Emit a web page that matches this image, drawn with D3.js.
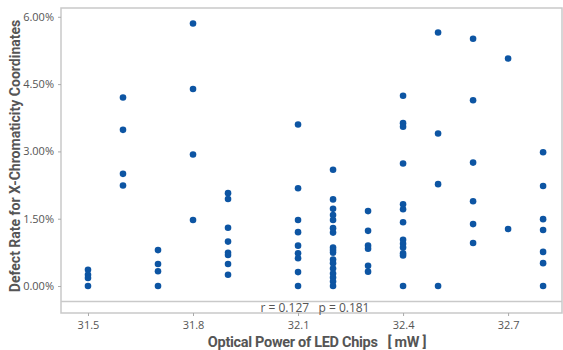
<!DOCTYPE html>
<html>
<head>
<meta charset="utf-8">
<script src="https://cdn.jsdelivr.net/npm/d3@7"></script>
<style>
  body { margin: 0; background: #fff; }
  svg text { font-family: "Open Sans", sans-serif; }
</style>
</head>
<body>
<div id="chart"></div>
<script>
let width = 563,
    height = 350;

// optical power groups (mW) and defect rates (%)
const power = [31.5, 31.6, 31.7, 31.8, 31.9, 32.1, 32.2, 32.3, 32.4, 32.5, 32.6, 32.7, 32.8];
const defects = [
  [0.36, 0.25, 0.18, 0.0],
  [4.20, 3.48, 2.50, 2.24],
  [0.80, 0.49, 0.33, 0.0],
  [5.85, 4.39, 2.93, 1.47],
  [2.07, 1.94, 1.30, 0.99, 0.74, 0.69, 0.49, 0.25],
  [3.60, 2.18, 1.47, 1.20, 0.90, 0.73, 0.62, 0.31, 0.0],
  [2.59, 1.93, 1.72, 1.58, 1.47, 1.29, 1.19, 0.86, 0.80, 0.74, 0.59, 0.51, 0.39, 0.28, 0.19, 0.10, 0.0],
  [1.67, 1.23, 0.90, 0.83, 0.45, 0.32],
  [4.24, 3.63, 3.55, 2.73, 1.82, 1.71, 1.42, 1.03, 0.94, 0.86, 0.73, 0.68, 0.0],
  [5.65, 3.40, 2.27, 0.0],
  [5.51, 4.14, 2.75, 1.89, 1.38, 0.96],
  [5.07, 1.27],
  [2.98, 2.23, 1.49, 1.25, 0.76, 0.51, 0.0]
];
const xTicks = [31.5, 31.8, 32.1, 32.4, 32.7];
const yTicks = [0, 1.5, 3.0, 4.5, 6.0];
const stats = "r = 0.127   p = 0.181";

const points = [];
power.forEach((p, i) => defects[i].forEach(v => points.push({ x: p, y: v })));

const m = { left: 61, right: 562, top: 8, band: 301.5, bottom: 313 };

const x = d3.scaleLinear().domain([31.4229, 32.854]).range([m.left, m.right]);
const y = d3.scaleLinear().domain([-0.345, 6.196]).range([m.band, m.top]);

const svg = d3.select("#chart").append("svg")
  .attr("width", width)
  .attr("height", height);

const grey = "#c9c9c9";

// frame
svg.append("rect")
  .attr("x", m.left).attr("y", m.top)
  .attr("width", m.right - m.left).attr("height", m.bottom - m.top)
  .attr("fill", "none").attr("stroke", grey).attr("stroke-width", 1.5);
svg.append("line")
  .attr("x1", m.left).attr("x2", m.right)
  .attr("y1", m.band).attr("y2", m.band)
  .attr("stroke", grey).attr("stroke-width", 1.5);

// axes
const xAxis = svg.append("g")
  .attr("transform", "translate(0," + m.bottom + ")")
  .call(d3.axisBottom(x).tickValues(xTicks).tickSize(3).tickPadding(5).tickFormat(d3.format(".1f")));
const yAxis = svg.append("g")
  .attr("transform", "translate(" + m.left + ",0)")
  .call(d3.axisLeft(y).tickValues(yTicks).tickSize(3).tickPadding(4).tickFormat(d => d.toFixed(2) + "%"));

[xAxis, yAxis].forEach(g => {
  g.select(".domain").remove();
  g.selectAll(".tick line").attr("stroke", "#aaa");
  g.selectAll(".tick text")
    .attr("fill", "#555")
    .style("font-size", "11px")
    .style("font-family", "'Open Sans', sans-serif");
});

// points
svg.append("g").selectAll("circle")
  .data(points)
  .enter()
  .append("circle")
  .attr("cx", d => x(d.x))
  .attr("cy", d => y(d.y))
  .attr("r", 3.3)
  .attr("fill", "#0d55a3");

// r / p text in the lower band
svg.append("text")
  .attr("x", 315).attr("y", 311.5)
  .attr("text-anchor", "middle")
  .attr("fill", "#555")
  .style("font-size", "12px")
  .style("white-space", "pre")
  .text(stats);

// titles
svg.append("text")
  .attr("x", 317).attr("y", 347)
  .attr("text-anchor", "middle")
  .attr("fill", "#555")
  .style("font-family", "Roboto, sans-serif")
  .style("font-weight", "bold")
  .style("font-size", "14.5px")
  .style("letter-spacing", "-0.3px")
  .style("white-space", "pre")
  .text("Optical Power of LED Chips   [ mW ]");

svg.append("text")
  .attr("transform", "translate(20,156) rotate(-90)")
  .attr("text-anchor", "middle")
  .attr("fill", "#555")
  .style("font-family", "Roboto, sans-serif")
  .style("font-weight", "bold")
  .style("font-size", "14px")
  .text("Defect Rate for X-Chromaticity Coordinates");
</script>
</body>
</html>
